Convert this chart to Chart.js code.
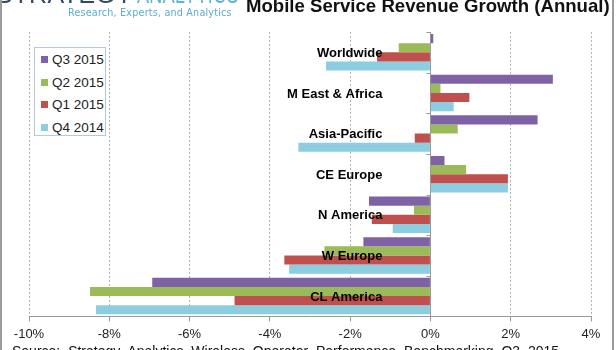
<!DOCTYPE html>
<html>
<head>
<meta charset="utf-8">
<script src="https://cdn.jsdelivr.net/npm/chart.js@4.4.1/dist/chart.umd.min.js"></script>
<style>
	html, body { margin: 0; padding: 0; background: #fff; }
	#lienzo { position: relative; width: 616px; height: 350px; overflow: hidden; font-family: "Liberation Sans", Arial, sans-serif; }
	#chart-crecimiento { position: absolute; left: 0; top: 0; }
	.marco { position: absolute; top: 0; bottom: 0; width: 2px; background: #9c9c9c; }
	#logo { position: absolute; left: -4px; top: -20px; font-size: 25px; white-space: nowrap; letter-spacing: 0.5px; }
	#logo .s1 { color: #34495e; }
	#logo .s2 { color: #5ab4d6; display: inline-block; transform: scaleX(0.72); transform-origin: left; margin-left: 4px; }
	#lema { position: absolute; left: 68px; top: 7px; font-family: "DejaVu Sans", sans-serif; font-size: 9.6px; color: #5aaecf; letter-spacing: 0.2px; white-space: nowrap; }
	#titulo { position: absolute; left: 246px; top: -5px; font-weight: bold; font-size: 18.6px; color: #111; white-space: nowrap; }
	#fuente { position: absolute; left: 12px; top: 343px; font-size: 14px; color: #111; white-space: nowrap; word-spacing: 4px; }
	#leyenda { position: absolute; left: 34px; top: 47px; width: 72px; height: 89px; border: 1px solid #b9c7da; background: #fff; box-sizing: border-box; }
	#leyenda div { position: absolute; left: 6px; height: 16px; line-height: 16px; font-size: 13.5px; color: #222; white-space: nowrap; }
	#leyenda span { display: inline-block; width: 7px; height: 7px; margin-right: 4px; vertical-align: 1px; }
</style>
</head>
<body>
<div id="lienzo">
	<canvas id="chart-crecimiento" width="616" height="350"></canvas>
	<div id="logo"><span class="s1">STRATEGY</span><span class="s2">ANALYTICS</span></div>
	<div id="lema">Research, Experts, and Analytics</div>
	<div id="titulo">Mobile Service Revenue Growth (Annual)</div>
	<div id="leyenda"></div>
	<div id="fuente">Source: Strategy Analytics Wireless Operator Performance Benchmarking Q3 2015</div>
	<div class="marco" style="left:0"></div>
	<div class="marco" style="left:612px"></div>
</div>
<script>
	var categorias = ['Worldwide', 'M East & Africa', 'Asia-Pacific', 'CE Europe', 'N America', 'W Europe', 'CL America'];
	var q3_2015 = [0.07, 3.05, 2.67, 0.35, -1.53, -1.67, -6.93];
	var q2_2015 = [-0.79, 0.25, 0.68, 0.89, -0.41, -2.64, -8.48];
	var q1_2015 = [-1.33, 0.97, -0.39, 1.93, -1.46, -3.64, -4.88];
	var q4_2014 = [-2.6, 0.58, -3.29, 1.93, -0.94, -3.52, -8.33];
	var series = ['Q3 2015', 'Q2 2015', 'Q1 2015', 'Q4 2014'];
	var colores = ['#7f62a5', '#9bbb59', '#c0504d', '#8dcde0'];
	var ticksX = [-10, -8, -6, -4, -2, 0, 2, 4];

	// leyenda flotante dentro del area del grafico
	var leyenda = document.getElementById('leyenda');
	series.forEach(function (nombre, i) {
		var fila = document.createElement('div');
		fila.style.top = (4 + i * 22.5) + 'px';
		fila.innerHTML = '<span style="background:' + colores[i] + '"></span>' + nombre;
		leyenda.appendChild(fila);
	});

	// etiquetas de categoria sobre las barras + marcas del eje en 0
	var etiquetasCategorias = {
		id: 'etiquetasCategorias',
		afterDatasetsDraw: function (chart) {
			var ctx = chart.ctx;
			var x = chart.scales.x;
			var y = chart.scales.y;
			var x0 = x.getPixelForValue(0);
			var paso = y.getPixelForTick(1) - y.getPixelForTick(0);
			ctx.save();
			ctx.strokeStyle = '#9a9a9a';
			ctx.lineWidth = 1;
			for (var i = 0; i <= categorias.length; i++) {
				var yb = Math.round(y.getPixelForTick(0) - paso / 2 + i * paso) + 0.5;
				ctx.beginPath();
				ctx.moveTo(x0 - 4, yb);
				ctx.lineTo(x0, yb);
				ctx.stroke();
			}
			ctx.font = 'bold 13px "Liberation Sans", Arial, sans-serif';
			ctx.fillStyle = '#000';
			ctx.textAlign = 'right';
			ctx.textBaseline = 'middle';
			categorias.forEach(function (c, i) {
				ctx.fillText(c, x0 - 48, y.getPixelForTick(i) + 1);
			});
			ctx.restore();
		}
	};

	var datasets = [q3_2015, q2_2015, q1_2015, q4_2014].map(function (valores, i) {
		return {
			label: series[i],
			data: valores,
			backgroundColor: colores[i],
			borderWidth: 0,
			barPercentage: 1,
			categoryPercentage: 0.9,
		};
	});

	new Chart(document.getElementById('chart-crecimiento'), {
		type: 'bar',
		data: { labels: categorias, datasets: datasets },
		plugins: [etiquetasCategorias],
		options: {
			indexAxis: 'y',
			responsive: false,
			animation: false,
			layout: { padding: { left: 29, right: 25, top: 32, bottom: 3 } },
			plugins: { legend: { display: false }, tooltip: { enabled: false } },
			scales: {
				x: {
					min: -10,
					max: 4,
					afterBuildTicks: function (axis) {
						axis.ticks = ticksX.map(function (v) { return { value: v }; });
					},
					grid: {
						color: function (c) { return c.tick && c.tick.value === 0 ? '#9a9a9a' : '#b4b4b4'; },
						tickColor: '#9a9a9a',
						tickLength: 5,
					},
					border: {
						display: true,
						color: '#9a9a9a',
						dash: function (c) { return c.tick && c.tick.value === 0 ? [] : [2, 2]; },
					},
					ticks: {
						padding: 5,
						color: '#222',
						font: { family: '"Liberation Sans", Arial, sans-serif', size: 13 },
						callback: function (v) { return v + '%'; },
					},
				},
				y: {
					display: false,
				},
			},
		},
	});
</script>
</body>
</html>
